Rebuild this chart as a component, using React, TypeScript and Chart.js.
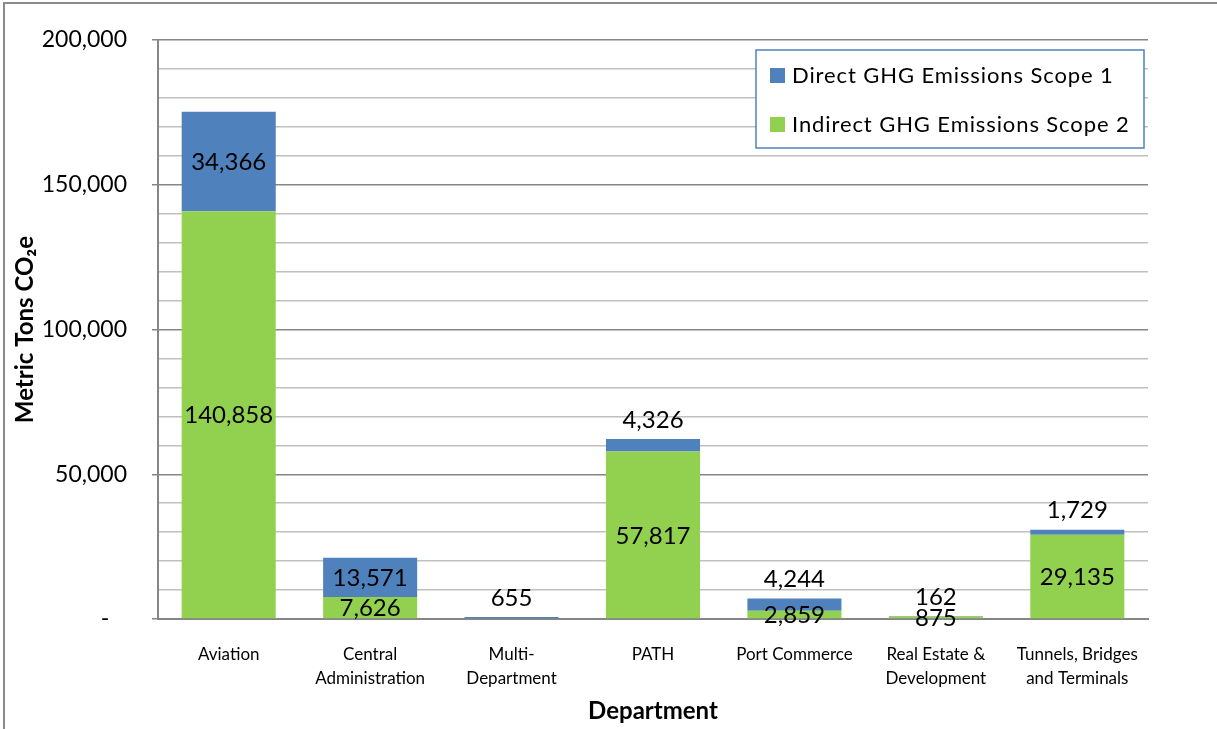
import React, { useEffect, useRef } from "react";
import { Chart, registerables } from "chart.js";

Chart.register(...registerables);

const categories: (string | string[])[] = [
  "Aviation",
  ["Central", "Administration"],
  ["Multi-", "Department"],
  "PATH",
  "Port Commerce",
  ["Real Estate &", "Development"],
  ["Tunnels, Bridges", "and Terminals"],
];
const indirectScope2 = [140858, 7626, 0, 57817, 2859, 875, 29135];
const directScope1 = [34366, 13571, 655, 4326, 4244, 162, 1729];
const yTickLabels: Record<number, string> = {
  0: "-   ",
  50000: "50,000",
  100000: "100,000",
  150000: "150,000",
  200000: "200,000",
};

const FONT = 'Lato, "Open Sans", sans-serif';
const BLUE = "#4F81BD";
const GREEN = "#92D050";

const fmt = (v: number) => v.toLocaleString("en-US");

const decorPlugin = {
  id: "decor",
  beforeDraw(chart: any) {
    const ctx = chart.ctx;
    ctx.save();
    ctx.fillStyle = "#ffffff";
    ctx.fillRect(0, 0, chart.width, chart.height);
    ctx.strokeStyle = "#8a8a8a";
    ctx.lineWidth = 2;
    ctx.beginPath();
    ctx.moveTo(4, chart.height);
    ctx.lineTo(4, 3);
    ctx.lineTo(chart.width, 3);
    ctx.stroke();
    ctx.restore();
  },
  afterDatasetsDraw(chart: any) {
    const ctx = chart.ctx;
    ctx.save();
    ctx.font = `24px ${FONT}`;
    ctx.fillStyle = "#000";
    ctx.textAlign = "center";
    ctx.textBaseline = "middle";
    chart.data.datasets.forEach((ds: any, di: number) => {
      const meta = chart.getDatasetMeta(di);
      meta.data.forEach((bar: any, i: number) => {
        const v = ds.data[i];
        if (!v) return;
        const h = bar.base - bar.y;
        let y: number;
        if (di === 0 || h > 30) y = (bar.y + bar.base) / 2 + 1;
        else y = bar.y - 19;
        ctx.fillText(fmt(v), bar.x, y);
      });
    });
    ctx.restore();
  },
  afterDraw(chart: any) {
    const ctx = chart.ctx;
    const area = chart.chartArea;
    const boxX = area.right - 392;
    const boxY = 50;
    const boxW = 388;
    const boxH = 98;
    ctx.save();
    ctx.fillStyle = "#fff";
    ctx.fillRect(boxX, boxY, boxW, boxH);
    ctx.strokeStyle = BLUE;
    ctx.lineWidth = 1.5;
    ctx.strokeRect(boxX, boxY, boxW, boxH);
    const items = [...chart.data.datasets].reverse();
    ctx.font = `22px ${FONT}`;
    ctx.textBaseline = "middle";
    ctx.textAlign = "left";
    (ctx as any).letterSpacing = "0.9px";
    items.forEach((ds: any, k: number) => {
      const cy = 76 + k * 49;
      ctx.fillStyle = ds.backgroundColor;
      ctx.fillRect(boxX + 14, cy - 8, 15, 15);
      ctx.fillStyle = "#000";
      ctx.fillText(ds.label, boxX + 36, cy);
    });
    ctx.restore();
  },
};

export default function App() {
  const ref = useRef<HTMLCanvasElement>(null);
  useEffect(() => {
    document.body.style.margin = "0";
    const chart = new Chart(ref.current!, {
      type: "bar",
      data: {
        labels: categories,
        datasets: [
          {
            label: "Indirect GHG Emissions Scope 2",
            data: indirectScope2,
            backgroundColor: GREEN,
            barPercentage: 0.665,
            categoryPercentage: 1,
          },
          {
            label: "Direct GHG Emissions Scope 1",
            data: directScope1,
            backgroundColor: BLUE,
            barPercentage: 0.665,
            categoryPercentage: 1,
          },
        ],
      },
      options: {
        responsive: false,
        animation: false,
        layout: { padding: { top: 40, right: 69, left: 11, bottom: 3 } },
        plugins: {
          legend: { display: false },
          tooltip: { enabled: false },
        },
        scales: {
          x: {
            stacked: true,
            grid: { display: false, drawTicks: false },
            border: { display: true, color: "#868686", width: 2 },
            ticks: {
              color: "#000",
              font: { family: FONT, size: 17, lineHeight: 1.4 },
              padding: 24,
              maxRotation: 0,
              autoSkip: false,
            },
            title: {
              display: true,
              text: "Department",
              color: "#000",
              font: { family: FONT, size: 24, weight: "bold", lineHeight: 1.2 },
              padding: 0,
            },
            afterFit(scale: any) {
              scale.height = 107;
            },
          },
          y: {
            stacked: true,
            min: 0,
            max: 200000,
            grid: {
              color: (c: any) => (c.tick && c.tick.value % 50000 === 0 ? "#868686" : "#c0c0c0"),
              lineWidth: 1.5,
              tickColor: (c: any) => (c.tick && c.tick.value % 50000 === 0 ? "#868686" : "rgba(0,0,0,0)"),
              tickLength: 6,
            },
            border: { display: true, color: "#868686", width: 2 },
            ticks: {
              stepSize: 10000,
              color: "#000",
              font: { family: FONT, size: 23 },
              padding: 25,
              autoSkip: false,
              callback: (v: any) => yTickLabels[Number(v)] ?? "",
            },
            title: {
              display: true,
              text: "Metric Tons CO₂e",
              color: "#000",
              font: { family: FONT, size: 24, weight: "bold", lineHeight: 1.2 },
              padding: 0,
            },
            afterFit(scale: any) {
              scale.width = 147;
            },
          },
        },
      },
      plugins: [decorPlugin],
    });
    return () => chart.destroy();
  }, []);
  return (
    <div style={{ width: 1217, height: 729 }}>
      <canvas ref={ref} width={1217} height={729} />
    </div>
  );
}
